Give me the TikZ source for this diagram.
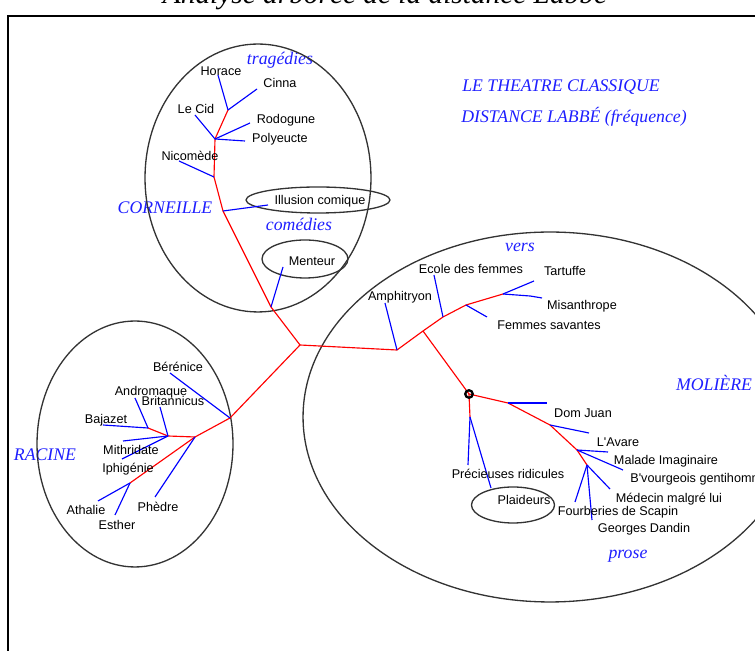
\documentclass[tikz,border=0pt]{standalone}
\usepackage{fontspec}
\setmainfont{Liberation Serif}
\newfontfamily\labelsans{Liberation Sans}
\definecolor{treered}{RGB}{255,0,0}
\definecolor{leafblue}{RGB}{0,0,255}
\definecolor{capblue}{RGB}{30,30,255}
\begin{document}
\begin{tikzpicture}[x=0.02cm,y=-0.02cm,
  trunk/.style={draw=treered,line width=0.65pt},
  leaf/.style={draw=leafblue,line width=0.65pt},
  group/.style={draw=black!80,line width=0.75pt},
  play/.style={font=\labelsans\fontsize{7.2}{8}\selectfont,inner sep=0pt},
  heading/.style={font=\itshape\fontsize{10.1}{12}\selectfont,text=capblue,inner sep=0pt}]
\useasboundingbox (0,0) rectangle (755,651);

% title, partly above the page, and the frame
\node[anchor=base,inner sep=0pt,font=\itshape\fontsize{16.7}{20}\selectfont] (title) at (385,4) {Analyse arborée de la distance Labbé};
\draw[line width=1.1pt] (8,16) rectangle (820,720);

% captions
\node[heading] (cap1) at (561,87) {LE THEATRE CLASSIQUE};
\node[heading] (cap2) at (574,117) {DISTANCE LABBÉ (fréquence)};
\node[heading] (corneille) at (165,208) {CORNEILLE};
\node[heading] (tragedies) at (280,60) {tragédies};
\node[heading] (comedies) at (299,224) {comédies};
\node[heading] (racine) at (45,455) {RACINE};
\node[heading] (moliere) at (714,383) {MOLIÈRE};
\node[heading] (vers) at (520,247) {vers};
\node[heading] (prose) at (628,556) {prose};

% author groups
\draw[group] (258,178) ellipse [x radius=2.26cm, y radius=2.68cm];
\draw[group] (318,200) ellipse [x radius=1.44cm, y radius=0.26cm];
\draw[group] (305,259) ellipse [x radius=0.86cm, y radius=0.38cm];
\draw[group] (135,444) ellipse [x radius=1.96cm, y radius=2.46cm];
\draw[group] (550,417) ellipse [x radius=4.94cm, y radius=3.7cm];
\draw[group] (513,505) ellipse [x radius=0.83cm, y radius=0.36cm];

% inner nodes of the tree
\coordinate (c0) at (300,345);
\coordinate (m1) at (271,307);
\coordinate (i1) at (223,211);
\coordinate (n1) at (214,177);
\coordinate (p1) at (215,139);
\coordinate (h1) at (228,110);
\coordinate (r1) at (230,418);
\coordinate (r2) at (195,437);
\coordinate (r3) at (168,436);
\coordinate (r5) at (148,428);
\coordinate (r4) at (130,483);
\coordinate (mo1) at (397,350);
\coordinate (mo2) at (423,331);
\coordinate (mo3) at (443,317);
\coordinate (mo4) at (466,305);
\coordinate (mo5) at (503,294);
\coordinate (o) at (469,394);
\coordinate (pr) at (470,417);
\coordinate (d1) at (508,403);
\coordinate (d2) at (550,425);
\coordinate (d3) at (577,450);
\coordinate (d4) at (587,465);

% leaf ends
\coordinate (menteurE) at (283,267);
\coordinate (illusionE) at (268,205);
\coordinate (nicomedeE) at (179,161);
\coordinate (lecidE) at (195,115);
\coordinate (rodoguneE) at (250,123);
\coordinate (polyeucteE) at (245,141);
\coordinate (horaceE) at (218,75);
\coordinate (cinnaE) at (257,89);
\coordinate (bereniceE) at (170,373);
\coordinate (phedreE) at (155,497);
\coordinate (britE) at (160,407);
\coordinate (mithE) at (123,441);
\coordinate (iphE) at (122,459);
\coordinate (androE) at (135,398);
\coordinate (bajazetE) at (103,425);
\coordinate (athalieE) at (98,501);
\coordinate (estherE) at (115,515);
\coordinate (amphE) at (385,303);
\coordinate (ecoleE) at (434,275);
\coordinate (fsavE) at (487,317);
\coordinate (tartE) at (534,281);
\coordinate (misanK) at (530,296);
\coordinate (misanE) at (542,298);
\coordinate (precE) at (468,465);
\coordinate (plaidE) at (491,488);
\coordinate (domjuanE) at (547,403);
\coordinate (avareE) at (589,433);
\coordinate (maladeE) at (608,452);
\coordinate (bourgE) at (623,470);
\coordinate (medecinE) at (610,489);
\coordinate (fourbE) at (575,502);
\coordinate (dandinE) at (592,520);

% red trunk
\draw[trunk] (c0) -- (m1) -- (i1) -- (n1) -- (p1) -- (h1);
\draw[trunk] (c0) -- (r1) -- (r2) -- (r3) -- (r5);
\draw[trunk] (r2) -- (r4);
\draw[trunk] (c0) -- (mo1) -- (mo2) -- (mo3) -- (mo4) -- (mo5);
\draw[trunk] (mo2) -- (o);
\draw[trunk] (o) -- (pr);
\draw[trunk] (o) -- (d1) -- (d2) -- (d3) -- (d4);

% blue leaves
\draw[leaf] (m1) -- (menteurE);
\draw[leaf] (i1) -- (illusionE);
\draw[leaf] (n1) -- (nicomedeE);
\draw[leaf] (p1) -- (lecidE);
\draw[leaf] (p1) -- (rodoguneE);
\draw[leaf] (p1) -- (polyeucteE);
\draw[leaf] (h1) -- (horaceE);
\draw[leaf] (h1) -- (cinnaE);
\draw[leaf] (r1) -- (bereniceE);
\draw[leaf] (r2) -- (phedreE);
\draw[leaf] (r3) -- (britE);
\draw[leaf] (r3) -- (mithE);
\draw[leaf] (r3) -- (iphE);
\draw[leaf] (r5) -- (androE);
\draw[leaf] (r5) -- (bajazetE);
\draw[leaf] (r4) -- (athalieE);
\draw[leaf] (r4) -- (estherE);
\draw[leaf] (mo1) -- (amphE);
\draw[leaf] (mo3) -- (ecoleE);
\draw[leaf] (mo4) -- (fsavE);
\draw[leaf] (mo5) -- (tartE);
\draw[leaf] (mo5) -- (misanK) -- (misanE);
\draw[leaf] (pr) -- (precE);
\draw[leaf] (pr) -- (plaidE);
\draw[leaf] (d1) -- (domjuanE);
\draw[leaf] (d2) -- (avareE);
\draw[leaf] (d3) -- (maladeE);
\draw[leaf] (d3) -- (bourgE);
\draw[leaf] (d4) -- (medecinE);
\draw[leaf] (d4) -- (fourbE);
\draw[leaf] (d4) -- (dandinE);

% marked node
\draw[line width=1.3pt] (o) circle [radius=0.075cm];

% play titles
\node[play] (horace) at (221,71) {Horace};
\node[play] (cinna) at (280,83) {Cinna};
\node[play] (lecid) at (196,109) {Le Cid};
\node[play] (rodogune) at (286,120) {Rodogune};
\node[play] (polyeucte) at (280,139) {Polyeucte};
\node[play] (nicomede) at (190,156) {Nicomède};
\node[play] (illusion) at (320,201) {Illusion comique};
\node[play] (menteur) at (312,261) {Menteur};
\node[play] (berenice) at (178,367) {Bérénice};
\node[play] (andromaque) at (151,392) {Andromaque};
\node[play] (britannicus) at (173,401) {Britannicus};
\node[play] (bajazet) at (106,420) {Bajazet};
\node[play] (mithridate) at (131,450) {Mithridate};
\node[play] (iphigenie) at (128,469) {Iphigénie};
\node[play] (athalie) at (86,510) {Athalie};
\node[play] (esther) at (117,525) {Esther};
\node[play] (phedre) at (158,507) {Phèdre};
\node[play] (amphitryon) at (400,297) {Amphitryon};
\node[play] (ecole) at (471,269) {Ecole des femmes};
\node[play] (tartuffe) at (565,271) {Tartuffe};
\node[play] (misanthrope) at (582,306) {Misanthrope};
\node[play] (fsavantes) at (549,325) {Femmes savantes};
\node[play] (domjuan) at (583,413) {Dom Juan};
\node[play] (avare) at (618,442) {L'Avare};
\node[play] (malade) at (666,461) {Malade Imaginaire};
\node[play,anchor=west] (bourgeois) at (630,479) {B'vourgeois gentihomme};
\node[play] (medecin) at (669,499) {Médecin malgré lui};
\node[play] (fourberies) at (618,512) {Fourberies de Scapin};
\node[play] (dandin) at (644,529) {Georges Dandin};
\node[play] (precieuses) at (508,474) {Précieuses ridicules};
\node[play] (plaideurs) at (524,500) {Plaideurs};
\end{tikzpicture}
\end{document}
